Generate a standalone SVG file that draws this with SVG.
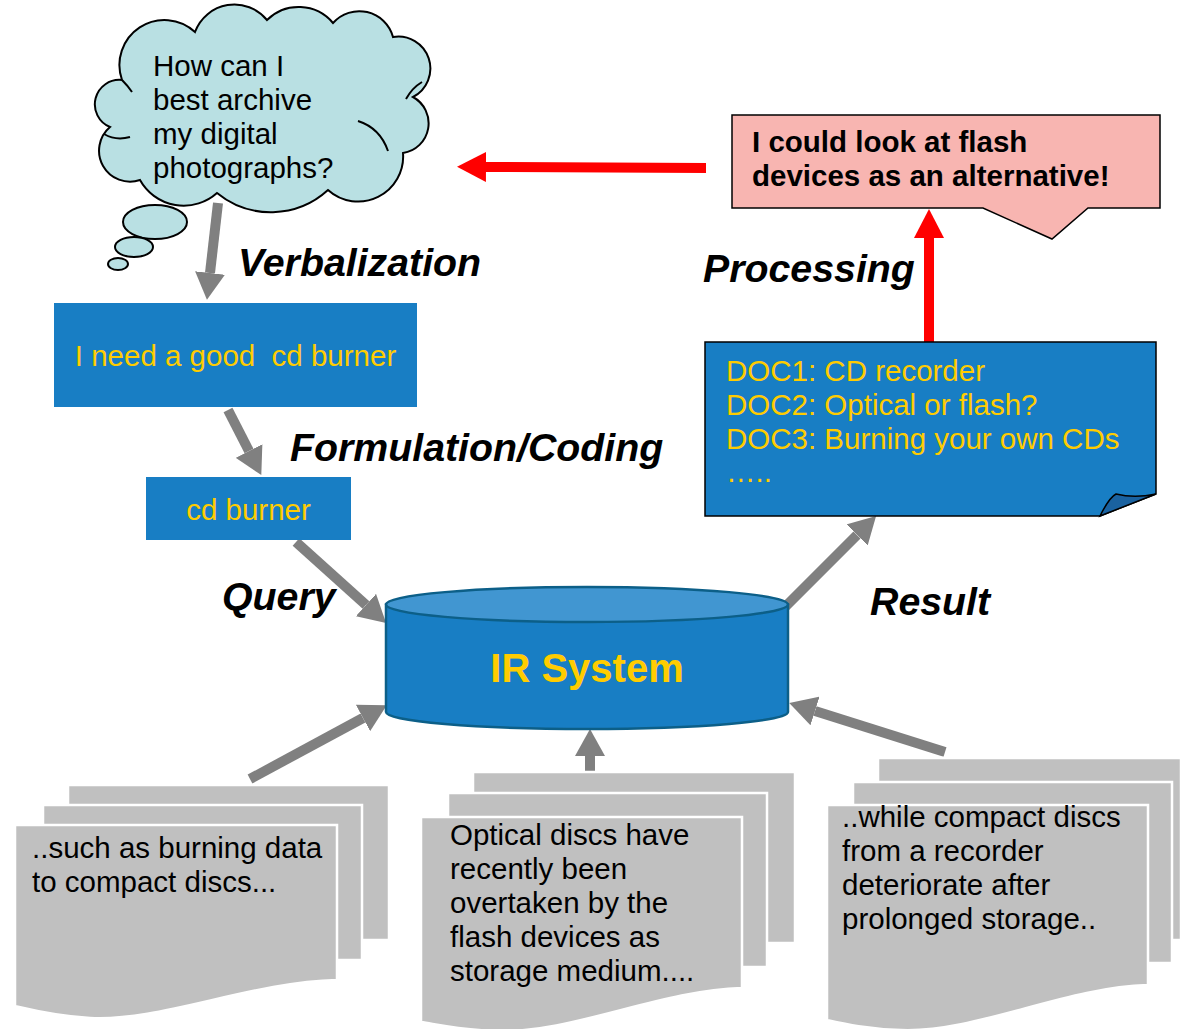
<svg xmlns="http://www.w3.org/2000/svg" width="1182" height="1029" viewBox="0 0 1182 1029">
  <style>
    .t { font-family: "Liberation Sans", Arial, sans-serif; font-size: 29.5px; }
    .dark { fill: #000000; }
    .yel { fill: #FFCC00; }
    .bold { font-weight: bold; }
    .lbl { font-family: "Liberation Sans", Arial, sans-serif; font-size: 39.3px; font-weight: bold; font-style: italic; fill: #000000; }
    .box { fill: #187EC4; }
    .page { fill: #C0C0C0; stroke: #FFFFFF; stroke-width: 2.5; }
    .gray { stroke: #808080; stroke-width: 10; fill: none; marker-end: url(#headGray); }
    .red { stroke: #FF0000; stroke-width: 10; fill: none; marker-end: url(#headRed); }
  </style>
  <defs>
    <marker id="headGray" markerUnits="userSpaceOnUse" markerWidth="27" markerHeight="30" refX="0" refY="15" orient="auto">
      <path d="M0,0 L27,15 L0,30 Z" fill="#808080"/>
    </marker>
    <marker id="headRed" markerUnits="userSpaceOnUse" markerWidth="29" markerHeight="30" refX="0" refY="15" orient="auto">
      <path d="M0,0 L29,15 L0,30 Z" fill="#FF0000"/>
    </marker>
  </defs>

  <rect x="0" y="0" width="1182" height="1029" fill="#FFFFFF"/>

  <!-- connectors -->
  <g id="connectors">
    <line class="gray" x1="218" y1="203" x2="210" y2="273"/>
    <line class="gray" x1="228" y1="410" x2="249" y2="451"/>
    <line class="gray" x1="296" y1="542" x2="366" y2="605"/>
    <line class="gray" x1="784" y1="608" x2="857" y2="535"/>
    <line class="gray" x1="250" y1="779" x2="363" y2="718"/>
    <line class="gray" x1="590" y1="772" x2="590" y2="756"/>
    <line class="gray" x1="945" y1="752" x2="815" y2="711"/>
    <line class="red" x1="706" y1="168" x2="486" y2="167"/>
    <line class="red" x1="929" y1="344" x2="929" y2="238"/>
  </g>

  <!-- thought cloud -->
  <g id="cloud">
    <path d="M122,80 A45,45 0 0 1 195,32 A42,42 0 0 1 267,20 A45,45 0 0 1 333,23 A35,35 0 0 1 393,37 A32,32 0 0 1 413,97 A30,30 0 0 1 403,153 A45,45 0 0 1 328,190 A85,85 0 0 1 217,193 A50,50 0 0 1 140,180 A31,31 0 0 1 110,127 A24.5,24.5 0 0 1 122,80 Z" fill="#B9E0E3" stroke="#000000" stroke-width="2"/>
    <path d="M104,134 Q116,141 130,137" fill="none" stroke="#000000" stroke-width="2"/>
    <path d="M358,121 Q380,128 388,151" fill="none" stroke="#000000" stroke-width="2"/>
    <path d="M406,99 Q412,88 422,82" fill="none" stroke="#000000" stroke-width="2"/>
    <path d="M122,80 Q128,86 132,92" fill="none" stroke="#000000" stroke-width="2"/>
    <ellipse cx="155" cy="222" rx="32" ry="17" fill="#B9E0E3" stroke="#000000" stroke-width="2"/>
    <ellipse cx="134" cy="247" rx="19" ry="10" fill="#B9E0E3" stroke="#000000" stroke-width="2"/>
    <ellipse cx="118" cy="264" rx="10" ry="6" fill="#B9E0E3" stroke="#000000" stroke-width="2"/>
    <text class="t dark" x="153" y="76">How can I</text>
    <text class="t dark" x="153" y="110">best archive</text>
    <text class="t dark" x="153" y="144">my digital</text>
    <text class="t dark" x="153" y="178">photographs?</text>
  </g>

  <!-- information need, verbalized -->
  <g id="need">
    <rect class="box" x="54" y="303" width="363" height="104"/>
    <text class="t yel" x="235.5" y="366" text-anchor="middle" xml:space="preserve">I need a good  cd burner</text>
  </g>

  <!-- coded query -->
  <g id="query">
    <rect class="box" x="146" y="477" width="205" height="63"/>
    <text class="t yel" x="248.5" y="520" text-anchor="middle">cd burner</text>
  </g>

  <!-- IR system cylinder -->
  <g id="ir-system">
    <path d="M386,604.5 V712 A201,17 0 0 0 788,712 V604.5 Z" fill="#187EC4" stroke="#0C5F88" stroke-width="2.5"/>
    <ellipse cx="587" cy="604.5" rx="201" ry="17.5" fill="#4196D1" stroke="#0C5F88" stroke-width="2.5"/>
    <text class="bold" x="587" y="682" text-anchor="middle" font-family="Liberation Sans, Arial, sans-serif" font-size="40" fill="#FFCC00">IR System</text>
  </g>

  <!-- result list -->
  <g id="results">
    <path d="M705,342 H1156 V494 L1100,516 H705 Z" fill="#187EC4" stroke="#000000" stroke-width="1.5"/>
    <path d="M1100,516 C1105,506 1110,497 1116,494 C1128,497 1142,497 1156,494 Z" fill="#1A62A0" stroke="#000000" stroke-width="1.5"/>
    <text class="t yel" x="726" y="381">DOC1: CD recorder</text>
    <text class="t yel" x="726" y="415">DOC2: Optical or flash?</text>
    <text class="t yel" x="726" y="449">DOC3: Burning your own CDs</text>
    <text class="t yel" x="726" y="482">…..</text>
  </g>

  <!-- insight callout -->
  <g id="insight">
    <path d="M732,115 H1160 V208 H1088 L1052,239 L983,208 H732 Z" fill="#F8B5B1" stroke="#000000" stroke-width="1.5"/>
    <text class="t dark bold" x="752" y="152">I could look at flash</text>
    <text class="t dark bold" x="752" y="186">devices as an alternative!</text>
  </g>

  <!-- document collections -->
  <g id="docs-1">
    <rect class="page" x="68" y="785" width="321" height="155"/>
    <rect class="page" x="43" y="805" width="319" height="155"/>
    <path class="page" d="M15,825 H337 V980 C250,982 160,1022 90,1018 C55,1016 32,1010 15,1006 Z"/>
    <text class="t dark" x="32" y="858">..such as burning data</text>
    <text class="t dark" x="32" y="892">to compact discs...</text>
  </g>

  <g id="docs-2">
    <rect class="page" x="473" y="772" width="322" height="171"/>
    <rect class="page" x="448" y="793" width="319" height="174"/>
    <path class="page" d="M421,817 H742 V988 C660,990 570,1034 496,1031 C462,1030 440,1025 421,1022 Z"/>
    <text class="t dark" x="450" y="845">Optical discs have</text>
    <text class="t dark" x="450" y="879">recently been</text>
    <text class="t dark" x="450" y="913">overtaken by the</text>
    <text class="t dark" x="450" y="947">flash devices as</text>
    <text class="t dark" x="450" y="981">storage medium....</text>
  </g>

  <g id="docs-3">
    <rect class="page" x="878" y="758" width="303" height="182"/>
    <rect class="page" x="853" y="782" width="319" height="181"/>
    <path class="page" d="M827,805 H1148 V985 C1065,987 975,1033 901,1030 C867,1029 845,1024 827,1020 Z"/>
    <text class="t dark" x="842" y="827">..while compact discs</text>
    <text class="t dark" x="842" y="861">from a recorder</text>
    <text class="t dark" x="842" y="895">deteriorate after</text>
    <text class="t dark" x="842" y="929">prolonged storage..</text>
  </g>

  <!-- step labels -->
  <g id="labels">
    <text class="lbl" x="238" y="276">Verbalization</text>
    <text class="lbl" x="290" y="461">Formulation/Coding</text>
    <text class="lbl" x="222" y="610">Query</text>
    <text class="lbl" x="870" y="615">Result</text>
    <text class="lbl" x="703" y="282">Processing</text>
  </g>
</svg>
